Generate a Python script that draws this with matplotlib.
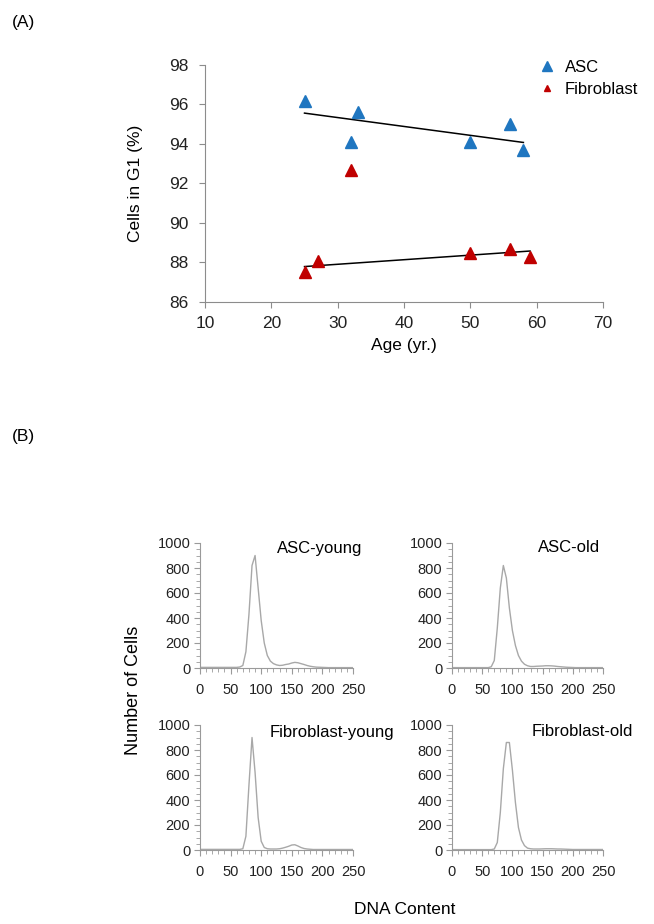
import numpy as np
import matplotlib
matplotlib.use("Agg")
import matplotlib.pyplot as plt
from matplotlib.lines import Line2D
from matplotlib.ticker import MultipleLocator

plt.rcParams["font.family"] = ["Liberation Sans", "DejaVu Sans"]

# Panel A: % cells in G1 vs donor age
asc_age = [25, 32, 33, 50, 56, 58]
asc_g1 = [96.2, 94.1, 95.6, 94.1, 95.0, 93.7]
fib_age = [25, 27, 32, 50, 56, 59]
fib_g1 = [87.5, 88.1, 92.7, 88.5, 88.7, 88.3]
fib_trend_mask = [True, True, False, True, True, True]  # outlier left out of trendline

# Panel B: DNA content histograms (sampled every 5 channels, 0..250)
dna_channel = list(range(0, 255, 5))
asc_young = [5, 5, 5, 5, 5, 5, 5, 5, 5, 5, 5, 5, 5, 8, 20, 130, 430, 820, 900, 640,
             380, 200, 100, 55, 35, 25, 20, 22, 28, 32, 40, 45, 42, 35, 28, 20, 14, 10,
             7, 6, 5, 4, 3, 3, 3, 3, 3, 3, 3, 3, 3]
asc_old = [3, 3, 3, 3, 3, 3, 3, 3, 3, 3, 3, 3, 3, 10, 60, 320, 640, 820, 720, 480,
           300, 180, 100, 55, 30, 18, 12, 12, 14, 15, 16, 18, 18, 17, 15, 12, 10, 8,
           6, 5, 4, 3, 3, 3, 3, 3, 3, 3, 3, 3, 3]
fib_young = [5, 5, 5, 5, 5, 5, 5, 5, 5, 5, 5, 5, 5, 5, 10, 110, 520, 900, 620, 260,
             70, 20, 10, 8, 8, 8, 10, 15, 22, 30, 40, 42, 32, 20, 12, 8, 6, 4, 4, 4,
             4, 4, 4, 4, 4, 4, 4, 4, 4, 4, 4]
fib_old = [3, 3, 3, 3, 3, 3, 3, 3, 3, 3, 3, 3, 3, 3, 8, 60, 300, 650, 860, 860,
           640, 380, 180, 80, 35, 15, 10, 8, 8, 8, 9, 10, 10, 10, 9, 8, 8, 7, 6, 5,
           4, 4, 4, 4, 4, 4, 4, 4, 4, 4, 4]
hist_titles = ["ASC-young", "ASC-old", "Fibroblast-young", "Fibroblast-old"]
hist_series = [asc_young, asc_old, fib_young, fib_old]

BLUE = "#1f76c0"
RED = "#c00000"
AXIS_GRAY = "#8c8c8c"

W, H = 654, 924
fig = plt.figure(figsize=(W / 100, H / 100), dpi=100)


def px_axes(left, top, right, bottom):
    return fig.add_axes([left / W, 1 - bottom / H, (right - left) / W, (bottom - top) / H])


# ---- Panel A ----
ax = px_axes(205, 65, 603, 302)
ax.plot(asc_age, asc_g1, "^", color=BLUE, ms=9, mec=BLUE, clip_on=False, zorder=3)
ax.plot(fib_age, fib_g1, "^", color=RED, ms=9, mec=RED, clip_on=False, zorder=3)

a = np.array(asc_age, float)
k, b = np.polyfit(a, asc_g1, 1)
ax.plot([a.min(), a.max()], [k * a.min() + b, k * a.max() + b], color="black", lw=1.1)

fa = np.array(fib_age, float)[fib_trend_mask]
fg = np.array(fib_g1, float)[fib_trend_mask]
k, b = np.polyfit(fa, fg, 1)
ax.plot([fa.min(), fa.max()], [k * fa.min() + b, k * fa.max() + b], color="black", lw=1.1)

ax.set_xlim(10, 70)
ax.set_ylim(86, 98)
ax.xaxis.set_major_locator(MultipleLocator(10))
ax.yaxis.set_major_locator(MultipleLocator(2))
for s in ("top", "right"):
    ax.spines[s].set_visible(False)
for s in ("left", "bottom"):
    ax.spines[s].set_color(AXIS_GRAY)
ax.tick_params(direction="out", length=4, color=AXIS_GRAY, labelsize=12.5,
               labelcolor="#222222")
ax.tick_params(axis="x", pad=6)
ax.tick_params(axis="y", pad=8)
ax.set_xlabel("Age (yr.)", fontsize=12.5, labelpad=5)
ax.set_ylabel("Cells in G1 (%)", fontsize=12.5, labelpad=19)

handles = [
    Line2D([], [], ls="none", marker="^", color=BLUE, ms=7),
    Line2D([], [], ls="none", marker="^", color=RED, ms=5),
]
ax.legend(handles, ["ASC", "Fibroblast"], frameon=False, fontsize=12,
          loc="upper left", bbox_to_anchor=(530 / W, 1 - 53 / H),
          bbox_transform=fig.transFigure, handletextpad=0.5, labelspacing=0.45,
          handlelength=1.2, borderaxespad=0)

fig.text(12 / W, 1 - 22 / H, "(A)", fontsize=12.5, va="center")

# ---- Panel B ----
boxes = [(200, 543, 353, 668), (452, 543, 603, 668),
         (200, 725, 353, 850), (452, 725, 603, 850)]
title_x = [277, 538, 270, 532]
title_y = [548, 548, 732, 732]
for box, series, title, tx, ty in zip(boxes, hist_series, hist_titles, title_x, title_y):
    hx = px_axes(*box)
    hx.plot(dna_channel, series, color="#a8a8a8", lw=1.0)
    hx.set_xlim(0, 250)
    hx.set_ylim(0, 1000)
    hx.xaxis.set_major_locator(MultipleLocator(50))
    hx.xaxis.set_minor_locator(MultipleLocator(10))
    hx.yaxis.set_major_locator(MultipleLocator(200))
    hx.yaxis.set_minor_locator(MultipleLocator(50))
    for s in ("top", "right"):
        hx.spines[s].set_visible(False)
    for s in ("left", "bottom"):
        hx.spines[s].set_color("#9a9a9a")
    hx.tick_params(which="major", direction="out", length=4, color="#9a9a9a",
                   labelsize=10.5, labelcolor="#222222", pad=3)
    hx.tick_params(axis="x", which="major", pad=7)
    hx.tick_params(which="minor", direction="out", length=3, color="#9a9a9a")
    fig.text(tx / W, 1 - ty / H, title, fontsize=12, va="center", ha="left")

fig.text(12 / W, 1 - 436 / H, "(B)", fontsize=12.5, va="center")
fig.text(133 / W, 1 - 690 / H, "Number of Cells", fontsize=13, rotation=90,
         va="center", ha="center")
fig.text(405 / W, 1 - 910 / H, "DNA Content", fontsize=12.5, va="center", ha="center")

fig.savefig("out.png", dpi=100)
